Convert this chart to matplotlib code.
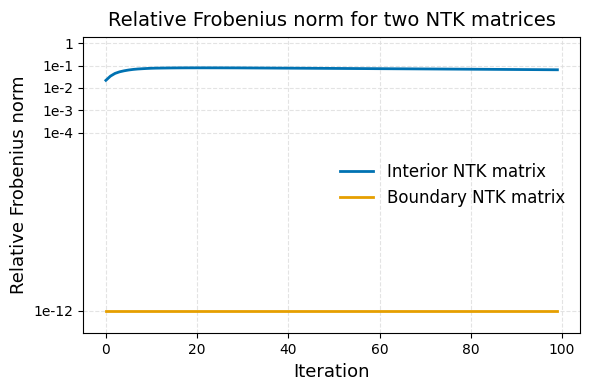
import matplotlib
matplotlib.use("Agg")
import matplotlib.pyplot as plt
from matplotlib.ticker import NullLocator

iterations = list(range(100))
interior = [
    0.022, 0.034, 0.045, 0.053, 0.059, 0.064, 0.068, 0.071, 0.073, 0.075,
    0.0765, 0.0775, 0.078, 0.0785, 0.079, 0.0793, 0.0796, 0.0798, 0.0800, 0.0800,
    0.0801, 0.0801, 0.0801, 0.0800, 0.0800, 0.0799, 0.0798, 0.0797, 0.0796, 0.0795,
    0.0793, 0.0791, 0.0789, 0.0787, 0.0785, 0.0783, 0.0781, 0.0779, 0.0777, 0.0775,
    0.0773, 0.0771, 0.0769, 0.0767, 0.0765, 0.0763, 0.0761, 0.0759, 0.0757, 0.0755,
    0.0753, 0.0751, 0.0749, 0.0747, 0.0745, 0.0743, 0.0741, 0.0739, 0.0737, 0.0735,
    0.0733, 0.0731, 0.0729, 0.0727, 0.0725, 0.0723, 0.0721, 0.0719, 0.0717, 0.0715,
    0.0713, 0.0711, 0.0709, 0.0707, 0.0705, 0.0703, 0.0701, 0.0699, 0.0697, 0.0695,
    0.0693, 0.0691, 0.0689, 0.0687, 0.0685, 0.0683, 0.0681, 0.0679, 0.0677, 0.0675,
    0.0673, 0.0671, 0.0669, 0.0667, 0.0665, 0.0663, 0.0661, 0.0659, 0.0657, 0.0655,
]
boundary = [1e-12] * 100

ytick_values = [1, 1e-1, 1e-2, 1e-3, 1e-4, 1e-12]
ytick_labels = ["1", "1e-1", "1e-2", "1e-3", "1e-4", "1e-12"]
xtick_values = [0, 20, 40, 60, 80, 100]

fig, ax = plt.subplots(figsize=(5.9, 3.9), dpi=100)
fig.subplots_adjust(left=0.1412, right=0.983, top=0.906, bottom=0.1454)
ax.plot(iterations, interior, color="#0072B2", lw=2, label="Interior NTK matrix")
ax.plot(iterations, boundary, color="#E69F00", lw=2, label="Boundary NTK matrix")
ax.set_yscale("log")
ax.set_ylim(1e-13, 2)
ax.set_yticks(ytick_values)
ax.set_yticklabels(ytick_labels)
ax.yaxis.set_minor_locator(NullLocator())
ax.set_xticks(xtick_values)
ax.grid(True, linestyle="--", color="#dddddd", linewidth=0.8, alpha=0.8)
ax.set_xlabel("Iteration", fontsize=13)
ax.set_ylabel("Relative Frobenius norm", fontsize=13)
ax.set_title("Relative Frobenius norm for two NTK matrices", fontsize=14, pad=8)
ax.legend(loc="center right", frameon=False, fontsize=12)
fig.savefig("out.png", dpi=100)
